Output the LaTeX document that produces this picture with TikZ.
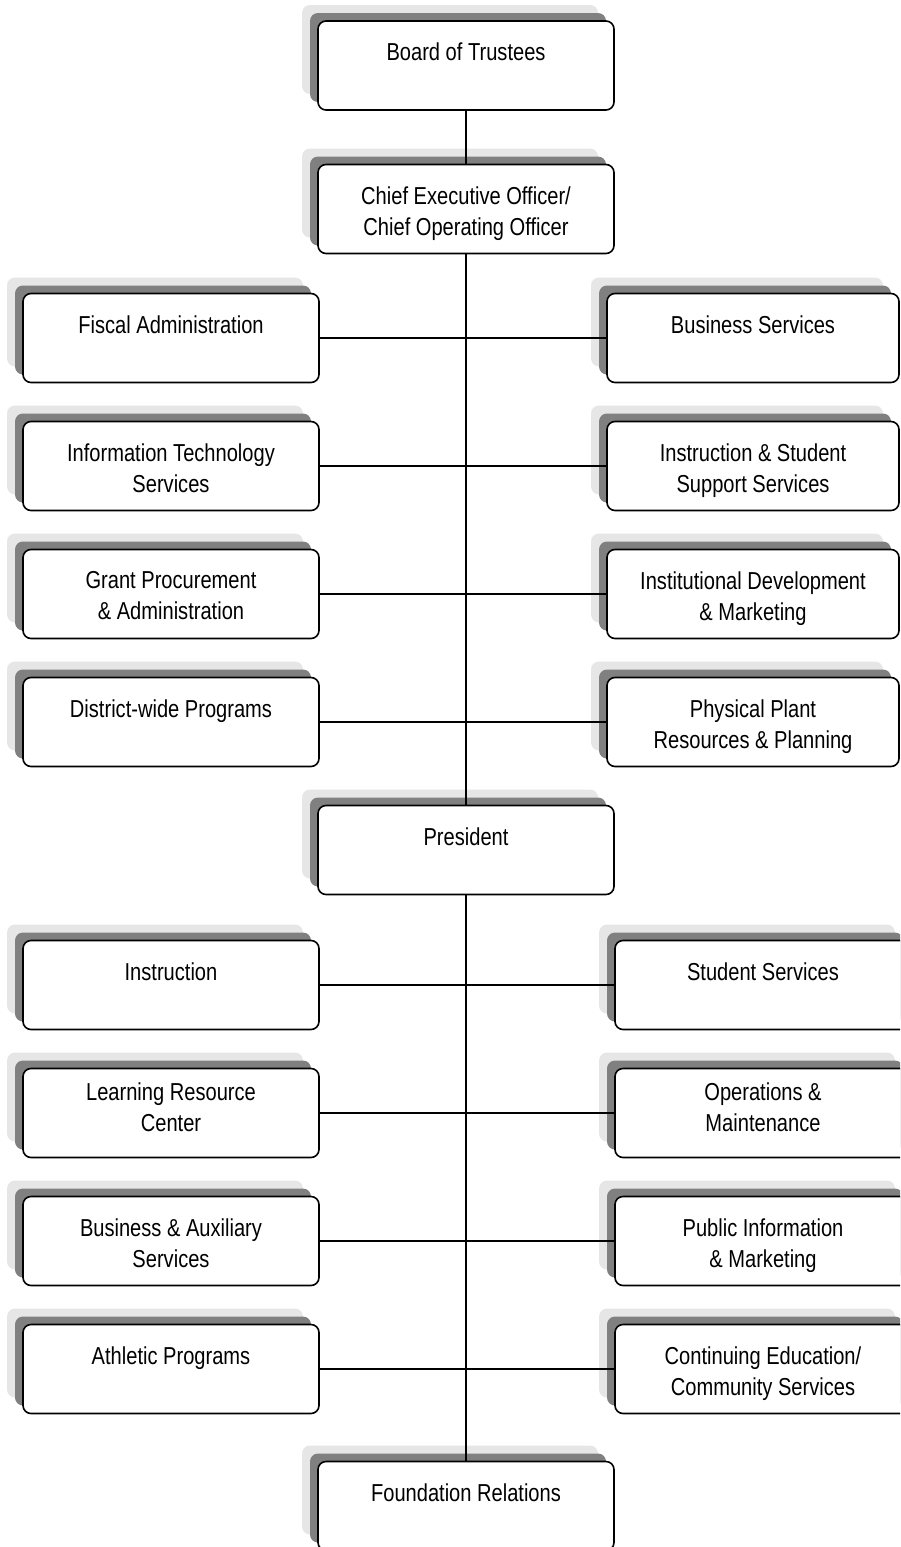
\documentclass[tikz,border=0pt]{standalone}
\usepackage{fontspec}
\setmainfont[FakeStretch=0.82]{Liberation Sans}
\usetikzlibrary{shadows}
\definecolor{shadowdark}{HTML}{808080}
\definecolor{shadowlight}{HTML}{E6E6E6}

\begin{document}
\begin{tikzpicture}[x=1pt,y=-1pt,node distance=128pt,line width=1.6pt,
					font=\fontsize{24.5}{31}\selectfont]
					\tikzstyle{unit}=[draw,fill=white,rounded corners=8pt,inner sep=0pt,
						minimum width=296pt,minimum height=89pt,
						copy shadow={shadow xshift=-16pt,shadow yshift=16pt,fill=shadowlight,draw=none},
						copy shadow={shadow xshift=-8pt,shadow yshift=8pt,fill=shadowdark,draw=none}]
					\tikzstyle{caption}=[anchor=north,align=center,inner sep=0pt,yshift=-22pt]
					
					\useasboundingbox (0,0) rectangle (900,1547);
					\clip (0,0) rectangle (900,1547);
					
					% upper part
					\node[unit] (bot)  at (466,65.5) {};
					\node[unit] (ceo)  at (466,209)  {};
					\node[unit] (fis)  at (171,338)  {};
					\node[unit] (its)  [below of=fis] {};
					\node[unit] (gpa)  [below of=its] {};
					\node[unit] (dwp)  [below of=gpa] {};
					\node[unit,minimum width=292pt] (bus)  at (753,338) {};
					\node[unit,minimum width=292pt] (iss)  [below of=bus] {};
					\node[unit,minimum width=292pt] (idm)  [below of=iss] {};
					\node[unit,minimum width=292pt] (ppr)  [below of=idm] {};
					
					% lower part
					\node[unit] (pres) at (466,850)  {};
					\node[unit] (ins)  at (171,985)  {};
					\node[unit] (lrc)  [below of=ins] {};
					\node[unit] (bas)  [below of=lrc] {};
					\node[unit] (ath)  [below of=bas] {};
					\node[unit] (ss)   at (763,985)  {};
					\node[unit] (om)   [below of=ss]  {};
					\node[unit] (pim)  [below of=om]  {};
					\node[unit] (ced)  [below of=pim] {};
					\node[unit] (fnd)  at (466,1506) {};
					
					\node[caption] (botT)  at (bot.north)  {Board of Trustees};
					\node[caption] (ceoT)  at (ceo.north)  {Chief Executive Officer/\\Chief Operating Officer};
					\node[caption] (fisT)  at (fis.north)  {Fiscal Administration};
					\node[caption] (itsT)  at (its.north)  {Information Technology\\Services};
					\node[caption] (gpaT)  at (gpa.north)  {Grant Procurement\\\& Administration};
					\node[caption] (dwpT)  at (dwp.north)  {District-wide Programs};
					\node[caption] (busT)  at (bus.north)  {Business Services};
					\node[caption] (issT)  at (iss.north)  {Instruction \& Student\\Support Services};
					\node[caption] (idmT)  at (idm.north)  {Institutional Development\\\& Marketing};
					\node[caption] (pprT)  at (ppr.north)  {Physical Plant\\Resources \& Planning};
					\node[caption] (presT) at (pres.north) {President};
					\node[caption] (insT)  at (ins.north)  {Instruction};
					\node[caption,yshift=8pt] (lrcT) at (lrc.north) {Learning Resource\\Center};
					\node[caption] (basT)  at (bas.north)  {Business \& Auxiliary\\Services};
					\node[caption] (athT)  at (ath.north)  {Athletic Programs};
					\node[caption] (ssT)   at (ss.north)   {Student Services};
					\node[caption,yshift=8pt] (omT) at (om.north) {Operations \&\\Maintenance};
					\node[caption] (pimT)  at (pim.north)  {Public Information\\\& Marketing};
					\node[caption] (cedT)  at (ced.north)  {Continuing Education/\\Community Services};
					\node[caption] (fndT)  at (fnd.north)  {Foundation Relations};
					
					\path
					(bot)  edge (ceo)
					(ceo)  edge (pres)
					(pres) edge (fnd)
					(fis)  edge (bus)
					(its)  edge (iss)
					(gpa)  edge (idm)
					(dwp)  edge (ppr)
					(ins)  edge (ss)
					(lrc)  edge (om)
					(bas)  edge (pim)
					(ath)  edge (ced);
\end{tikzpicture}
\end{document}
